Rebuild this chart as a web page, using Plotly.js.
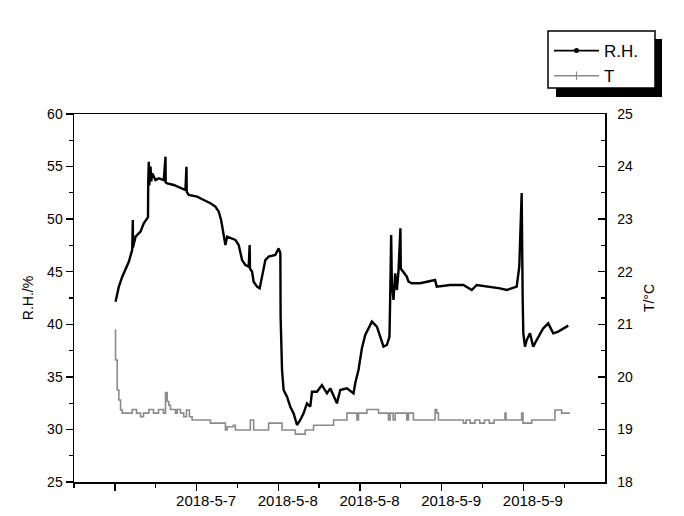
<!DOCTYPE html>
<html>
<head>
<meta charset="utf-8">
<script src="https://cdn.plot.ly/plotly-3.0.1.min.js"></script>
<style>html,body{margin:0;padding:0;background:#fff;}#chart{width:684px;height:516px;}</style>
</head>
<body>
<div id="chart"></div>
<script>
// hours counted from 2018-5-6 00:00
var rhHours = [24.10,24.35,24.59,25.09,25.57,26.05,26.55,26.64,26.67,27.04,27.77,28.25,28.75,28.87,28.90,28.99,29.06,29.24,29.35,29.49,29.97,30.45,31.19,31.44,31.47,31.69,32.65,33.64,34.37,34.52,34.56,34.86,36.09,37.06,38.04,38.77,39.26,39.61,39.90,40.24,40.49,40.97,41.71,42.19,42.69,43.17,43.66,43.80,43.85,44.16,44.39,44.89,45.27,45.62,46.11,46.59,47.57,48.06,48.31,48.35,48.56,48.79,49.29,49.77,50.26,50.76,51.24,51.72,52.22,52.71,52.96,53.69,54.42,55.16,55.64,56.62,57.11,58.09,59.06,59.31,59.79,60.29,60.78,61.76,62.49,62.98,63.46,63.96,64.34,64.44,64.59,64.69,64.93,65.18,65.43,65.66,65.95,66.00,66.16,66.89,67.13,67.63,68.84,69.83,71.04,71.29,73.24,75.20,76.43,77.16,79.11,80.58,81.56,82.30,83.03,83.41,83.76,83.91,84.00,84.25,84.50,84.98,85.46,85.96,86.45,86.93,87.66,88.40,89.13,89.86,90.60];
var rhValues = [42.15,42.95,43.58,44.53,45.16,45.95,47.07,49.92,47.30,48.33,48.81,49.60,50.08,50.20,53.41,55.46,53.20,54.99,53.60,54.36,53.72,53.88,53.72,55.94,53.50,53.41,53.25,52.93,52.77,54.99,52.60,52.30,52.14,51.82,51.51,51.19,50.71,49.92,48.65,47.54,48.33,48.18,48.02,47.54,46.11,45.64,45.48,47.54,45.30,45.00,44.05,43.58,43.42,44.53,46.11,46.43,46.59,47.23,46.75,40.72,35.65,33.75,33.11,32.16,31.53,30.42,30.90,31.53,32.48,32.16,33.59,33.59,34.22,33.43,33.91,32.48,33.75,33.91,33.43,34.39,35.65,37.72,38.98,40.25,39.77,38.82,37.87,38.03,38.82,42.31,48.49,43.90,42.31,44.85,43.26,45.00,49.13,45.30,45.16,44.53,44.05,43.90,43.90,44.05,44.21,43.58,43.74,43.74,43.26,43.74,43.58,43.42,43.26,43.42,43.58,45.48,52.49,42.31,39.14,37.87,38.50,39.14,37.87,38.50,39.14,39.62,40.09,39.14,39.30,39.62,39.87];

var tHours = [24.00,24.10,24.35,24.59,24.84,25.09,26.55,27.18,27.77,28.21,28.99,29.68,30.41,31.14,31.44,31.69,31.92,32.17,32.90,33.15,33.64,34.12,34.52,34.96,35.35,38.04,40.24,40.49,41.41,41.71,43.90,44.39,46.59,48.56,50.51,51.97,53.19,56.13,58.09,59.56,59.79,61.03,62.73,64.19,64.44,64.88,65.18,66.89,67.13,67.86,71.04,71.29,71.53,75.20,75.60,76.20,76.90,77.60,78.30,79.00,79.70,80.58,81.31,81.46,83.76,83.95,85.23,88.65,89.63,90.85];
var tValues = [20.89,20.32,19.75,19.56,19.37,19.31,19.38,19.31,19.24,19.31,19.38,19.31,19.38,19.31,19.70,19.53,19.46,19.38,19.31,19.38,19.31,19.24,19.37,19.24,19.18,19.12,18.99,19.05,19.08,18.99,19.18,18.99,19.12,18.99,18.91,18.99,19.08,19.18,19.31,19.18,19.31,19.38,19.31,19.18,19.31,19.18,19.31,19.18,19.31,19.18,19.38,19.31,19.18,19.12,19.18,19.12,19.18,19.12,19.18,19.12,19.18,19.18,19.31,19.18,19.31,19.12,19.18,19.37,19.31,19.31];

var majorTicks = [24,36,48,60,72,84];
var minorTicks = [18,30,42,54,66,78,90];
var labelPos = [37.4,49.4,61.4,73.4,85.4];
var labelText = ['2018-5-7','2018-5-8','2018-5-8','2018-5-9','2018-5-9'];
var seriesNames = ['R.H.','T'];

var FONT = 'Liberation Sans, Arial, sans-serif';

var traces = [
  {x: rhHours, y: rhValues, type: 'scatter', mode: 'lines', name: seriesNames[0],
   line: {color: '#000000', width: 2.4}, showlegend: false, yaxis: 'y', xaxis: 'x'},
  {x: tHours, y: tValues, type: 'scatter', mode: 'lines', name: seriesNames[1],
   line: {color: '#8a8a8a', width: 1.6, shape: 'hv'}, showlegend: false, yaxis: 'y2', xaxis: 'x2'},
  {x: [null], y: [null], type: 'scatter', mode: 'lines+markers', name: seriesNames[0],
   line: {color: '#000000', width: 1.8}, marker: {color: '#000000', size: 5, symbol: 'circle'},
   yaxis: 'y', xaxis: 'x'},
  {x: [null], y: [null], type: 'scatter', mode: 'lines+markers', name: seriesNames[1],
   line: {color: '#8a8a8a', width: 1.5}, marker: {color: '#8a8a8a', size: 6, symbol: 'line-ns', line: {color: '#8a8a8a', width: 1.2}},
   yaxis: 'y2', xaxis: 'x2'}
];

function px(x) { return (x - 74) / 531; }
function py(y) { return (482 - y) / 368; }

var layout = {
  width: 684, height: 516,
  margin: {l: 74, r: 79, t: 114, b: 34, pad: 0},
  paper_bgcolor: '#ffffff', plot_bgcolor: '#ffffff',
  font: {family: FONT, color: '#000000', size: 14},
  showlegend: true,
  xaxis: {
    range: [18, 96], showgrid: false, zeroline: false,
    showline: true, linecolor: '#000', linewidth: 1.5, mirror: true,
    tickmode: 'array', tickvals: majorTicks, ticks: 'outside', ticklen: 7, tickwidth: 1.3, tickcolor: '#000',
    showticklabels: false,
    minor: {tickmode: 'array', tickvals: minorTicks, ticks: 'outside', ticklen: 4, tickwidth: 1.2, tickcolor: '#000'}
  },
  xaxis2: {
    overlaying: 'x', anchor: 'y', side: 'bottom', range: [18, 96],
    showgrid: false, zeroline: false, showline: false,
    tickmode: 'array', tickvals: labelPos, ticktext: labelText,
    ticks: 'outside', ticklen: 5, tickcolor: 'rgba(0,0,0,0)',
    tickfont: {family: FONT, size: 15, color: '#000'}
  },
  yaxis: {
    range: [25, 60], showgrid: false, zeroline: false,
    showline: true, linecolor: '#000', linewidth: 1.5,
    tickmode: 'linear', tick0: 25, dtick: 5, ticks: 'outside', ticklen: 7, tickwidth: 1.3, tickcolor: '#000',
    minor: {dtick: 2.5, tick0: 25, ticks: 'outside', ticklen: 4, tickwidth: 1.2, tickcolor: '#000'},
    tickfont: {family: FONT, size: 14},
    title: {text: 'R.H./%', font: {family: FONT, size: 14}, standoff: 10}
  },
  yaxis2: {
    overlaying: 'y', side: 'right', anchor: 'x', range: [18, 25],
    showgrid: false, zeroline: false,
    showline: true, linecolor: '#000', linewidth: 1.5,
    tickmode: 'linear', tick0: 18, dtick: 1, ticks: 'inside', ticklen: 7, tickwidth: 1.3, tickcolor: '#000',
    minor: {dtick: 0.5, tick0: 18, ticks: 'inside', ticklen: 4, tickwidth: 1.2, tickcolor: '#000'},
    ticklabelstandoff: 8,
    tickfont: {family: FONT, size: 14},
    title: {text: 'T/°C', font: {family: FONT, size: 14}, standoff: 12}
  },
  legend: {
    x: px(549), y: py(33), xanchor: 'left', yanchor: 'top',
    bgcolor: 'rgba(0,0,0,0)', borderwidth: 0,
    font: {family: FONT, size: 17, color: '#000'},
    tracegroupgap: 0, itemwidth: 45
  },
  shapes: [
    {type: 'rect', xref: 'paper', yref: 'paper', x0: px(556), x1: px(662), y0: py(97), y1: py(39),
     fillcolor: '#000', line: {width: 0}, layer: 'above'},
    {type: 'rect', xref: 'paper', yref: 'paper', x0: px(548), x1: px(655), y0: py(88), y1: py(31),
     fillcolor: '#fff', line: {color: '#000', width: 1.5}, layer: 'above'}
  ]
};

Plotly.newPlot('chart', traces, layout, {displayModeBar: false, staticPlot: true});
</script>
</body>
</html>
